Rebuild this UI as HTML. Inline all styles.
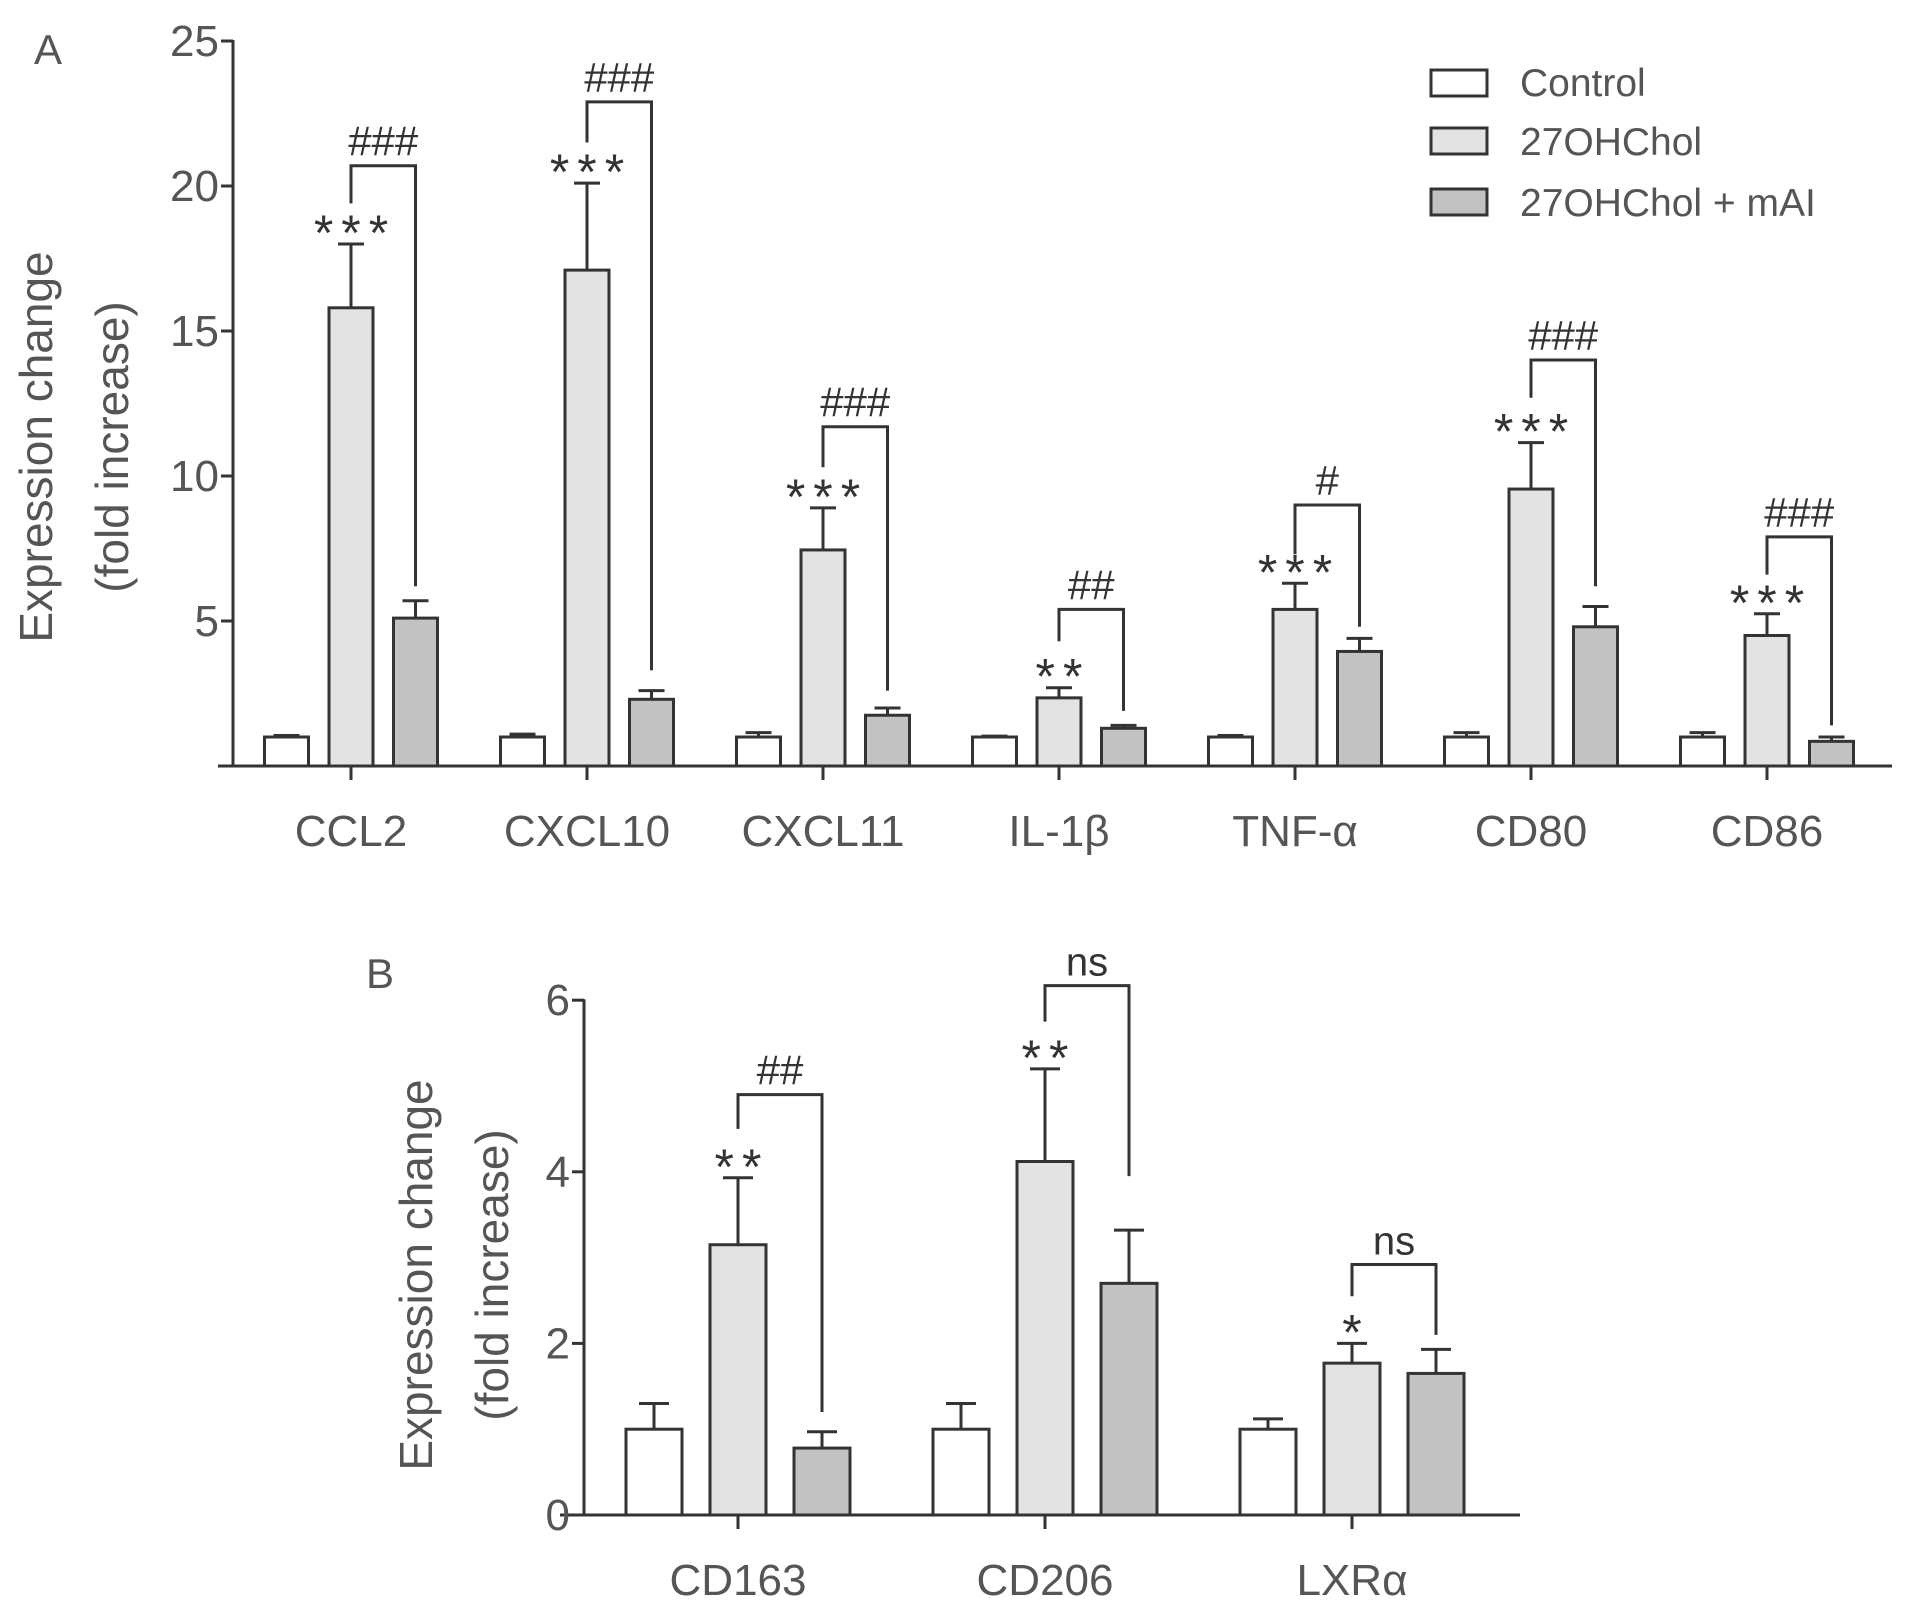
<!DOCTYPE html>
<html><head><meta charset="utf-8"><style>
body{margin:0;background:#fff}
svg{display:block}
text{font-family:"Liberation Sans",Arial,sans-serif;fill:#555}
</style></head><body>
<svg id="chart" width="1913" height="1618" viewBox="0 0 1913 1618" xmlns="http://www.w3.org/2000/svg">
<text x="34" y="64" font-size="42">A</text>
<text x="366" y="988" font-size="42">B</text>
<g>
 <g><rect x="1431" y="70" width="56" height="26" fill="#fff" stroke="#333" stroke-width="3"/><text x="1520" y="96" font-size="39">Control</text></g>
 <g><rect x="1431" y="128" width="56" height="26" fill="#e3e3e3" stroke="#333" stroke-width="3"/><text x="1520" y="155" font-size="39">27OHChol</text></g>
 <g><rect x="1431" y="189" width="56" height="26" fill="#c2c2c2" stroke="#333" stroke-width="3"/><text x="1520" y="216" font-size="39">27OHChol + mAI</text></g>
</g>
</svg>
<script>
const catsA=["CCL2","CXCL10","CXCL11","IL-1β","TNF-α","CD80","CD86"];
const ctrlA=[1.0,1.0,1.0,1.0,1.0,1.0,1.0];
const ctrlErrA=[0.05,0.1,0.15,0.03,0.05,0.15,0.15];
const oxA=[15.8,17.1,7.45,2.35,5.4,9.55,4.5];
const oxErrA=[2.2,3.0,1.45,0.35,0.9,1.6,0.75];
const maiA=[5.1,2.3,1.75,1.3,3.95,4.8,0.85];
const maiErrA=[0.6,0.3,0.25,0.1,0.45,0.7,0.15];
const starA=["***","***","***","**","***","***","***"];
const hashA=["###","###","###","##","#","###","###"];
const brTopA=[20.7,22.9,11.7,5.4,9.0,14.0,7.9];
const brLeftA=[19.4,21.5,10.3,4.3,7.3,12.7,6.6];
const brRightA=[6.2,3.3,2.6,1.9,4.8,6.2,1.4];
const ticksA=[5,10,15,20,25];

const catsB=["CD163","CD206","LXRα"];
const ctrlB=[1.0,1.0,1.0];
const ctrlErrB=[0.3,0.3,0.12];
const oxB=[3.15,4.12,1.77];
const oxErrB=[0.78,1.08,0.23];
const maiB=[0.78,2.7,1.65];
const maiErrB=[0.19,0.62,0.28];
const starB=["**","**","*"];
const hashB=["##","ns","ns"];
const brTopB=[4.9,6.17,2.92];
const brLeftB=[4.5,5.75,2.55];
const brRightB=[1.2,3.95,2.1];
const ticksB=[0,2,4,6];

const svg=document.getElementById('chart');
const NS='http://www.w3.org/2000/svg';
function mk(tag,attrs,parent){const e=document.createElementNS(NS,tag);for(const k in attrs)e.setAttribute(k,attrs[k]);(parent||svg).appendChild(e);return e;}
const stroke='#333';

function panel(cfg){
  const y=v=>cfg.y0-(v-cfg.vmin)*cfg.ppu;
  const g=mk('g',{});
  
  
  const ya=mk('line',{x1:cfg.ax,y1:y(cfg.vmax)-1,x2:cfg.ax,y2:cfg.y0,stroke:stroke,'stroke-width':3},g);
  
  
  const xa=mk('line',{x1:cfg.xStart,y1:cfg.y0,x2:cfg.xEnd,y2:cfg.y0,stroke:stroke,'stroke-width':3},g);
  
  
  cfg.ticks.forEach(t=>{
    mk('line',{x1:cfg.ax-12,y1:y(t),x2:cfg.ax,y2:y(t),stroke:stroke,'stroke-width':3},g);
    const tl=mk('text',{x:cfg.ax-14,y:y(t)+15,'font-size':44,'text-anchor':'end'},g);
    tl.textContent=t;
    
    
  });
  const tt=mk('text',{transform:`translate(${cfg.tx},${cfg.ty}) rotate(-90)`,'font-size':46,'text-anchor':'middle'},g);
  tt.textContent='Expression change';
  
  
  const tt2=mk('text',{transform:`translate(${cfg.tx+cfg.tgap},${cfg.ty}) rotate(-90)`,'font-size':46,'text-anchor':'middle'},g);
  tt2.textContent='(fold increase)';
  
  
  const fills=['#ffffff','#e3e3e3','#c2c2c2'];
  cfg.cats.forEach((c,i)=>{
    const cx=cfg.c0+i*cfg.gs;
    mk('line',{x1:cx,y1:cfg.y0,x2:cx,y2:cfg.y0+14,stroke:stroke,'stroke-width':3},g);
    const xl=mk('text',{x:cx,y:cfg.y0+cfg.lblDy,'font-size':44,'text-anchor':'middle'},g);
    xl.textContent=c;
    
    
    const vals=[cfg.ctrl[i],cfg.ox[i],cfg.mai[i]];
    const errs=[cfg.ctrlErr[i],cfg.oxErr[i],cfg.maiErr[i]];
    const names=['control','27ohchol','27ohchol-mai'];
    vals.forEach((v,k)=>{
      const bx=cx+(k-1)*cfg.bs;
      const top=y(v+errs[k]);
      mk('line',{x1:bx,y1:y(v),x2:bx,y2:top,stroke:stroke,'stroke-width':3},g);
      mk('line',{x1:bx-cfg.cap,y1:top,x2:bx+cfg.cap,y2:top,stroke:stroke,'stroke-width':3},g);
      const r=mk('rect',{x:bx-cfg.bw/2,y:y(v),width:cfg.bw,height:cfg.y0-y(v),fill:fills[k],stroke:stroke,'stroke-width':3},g);
      
      
    });
    const lx=cx, rx=cx+cfg.bs;
    const br=mk('path',{d:`M${lx},${y(cfg.brLeft[i])} L${lx},${y(cfg.brTop[i])} L${rx},${y(cfg.brTop[i])} L${rx},${y(cfg.brRight[i])}`,fill:'none',stroke:stroke,'stroke-width':3},g);
    
    
    const ht=mk('text',{x:(lx+rx)/2,y:y(cfg.brTop[i])-10,'font-size':cfg.hash[i]==='ns'?40:42,'text-anchor':'middle',style:'fill:#333'},g);
    ht.textContent=cfg.hash[i];
    
    
    const st=mk('text',{x:cx+4,y:y(cfg.ox[i]+cfg.oxErr[i])+6,'font-size':50,'letter-spacing':'8','text-anchor':'middle',style:'fill:#333'},g);
    st.textContent=cfg.star[i];
    
    
  });
}
panel({name:'panel-a',y0:766,vmin:0,vmax:25,ppu:29,ax:233,xStart:218,xEnd:1892,ticks:ticksA,tx:52,ty:447,tgap:76,
 cats:catsA,ctrl:ctrlA,ctrlErr:ctrlErrA,ox:oxA,oxErr:oxErrA,mai:maiA,maiErr:maiErrA,star:starA,hash:hashA,
 brTop:brTopA,brLeft:brLeftA,brRight:brRightA,c0:351,gs:236,bs:64.5,bw:44,cap:13,lblDy:80});
panel({name:'panel-b',y0:1515,vmin:0,vmax:6,ppu:85.8,ax:584,xStart:560,xEnd:1520,ticks:ticksB,tx:432,ty:1275,tgap:76,
 cats:catsB,ctrl:ctrlB,ctrlErr:ctrlErrB,ox:oxB,oxErr:oxErrB,mai:maiB,maiErr:maiErrB,star:starB,hash:hashB,
 brTop:brTopB,brLeft:brLeftB,brRight:brRightB,c0:738,gs:307,bs:84,bw:56,cap:15,lblDy:80});
</script>
</body></html>
